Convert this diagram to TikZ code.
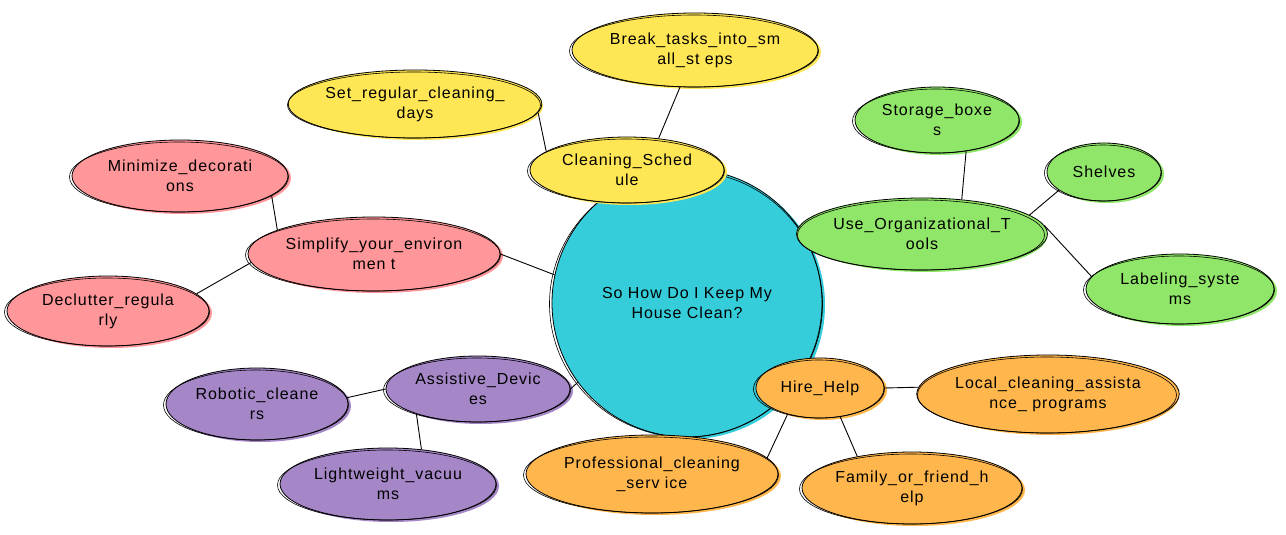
\documentclass[tikz,border=0pt]{standalone}
\usepackage{fontspec}
\setmainfont{Liberation Sans}[LetterSpace=6]
\usetikzlibrary{shapes.geometric}
\definecolor{ccyan}{RGB}{54,205,219}
\definecolor{cyel}{RGB}{255,230,84}
\definecolor{cpink}{RGB}{255,150,153}
\definecolor{cgreen}{RGB}{143,230,104}
\definecolor{cpurple}{RGB}{165,135,200}
\definecolor{corange}{RGB}{255,183,77}
\tikzset{
  mnode/.style={ellipse, draw=black, line width=0.8pt, inner sep=0pt, align=center,
    font=\fontsize{16}{20}\selectfont, text=black},
  sketch/.style={draw=black, line width=0.6pt},
  edge/.style={draw=black, line width=0.9pt},
}
% name, x, y, rx, ry, colour, text
\newcommand{\mm}[7]{%
  \fill[#6] (#2+3,#3+2) ellipse [x radius=#4, y radius=#5];
  \node[mnode, fill=#6, minimum width={2*#4pt}, minimum height={2*#5pt}] (#1) at (#2,#3) {#7};
  \draw[sketch] (#2-1,#3+1) ellipse [x radius=#4+1.5, y radius=#5-1];
}
\begin{document}
\begin{tikzpicture}[x=1pt,y=-1pt]
\useasboundingbox (0,0) rectangle (1286,535);
\fill[white] (0,0) rectangle (1286,535);

\mm{c}{687}{303}{135}{134}{ccyan}{So How Do I Keep My\\House Clean?}
\mm{cs}{627}{170}{97}{33}{cyel}{Cleaning\_Sched\\ule}
\mm{bt}{695}{50}{123}{37}{cyel}{Break\_tasks\_into\_sm\\all\_st eps}
\mm{sr}{415}{104}{125}{34}{cyel}{Set\_regular\_cleaning\_\\days}
\mm{se}{374}{254}{126}{37}{cpink}{Simplify\_your\_environ\\men t}
\mm{md}{180}{176}{108}{36}{cpink}{Minimize\_decorati\\ons}
\mm{dr}{108}{311}{101}{35}{cpink}{Declutter\_regula\\rly}
\mm{uo}{922}{234}{122}{36}{cgreen}{Use\_Organizational\_T\\ools}
\mm{sb}{937}{120}{82}{33}{cgreen}{Storage\_boxe\\s}
\mm{sh}{1104}{172}{57}{29}{cgreen}{Shelves}
\mm{ls}{1180}{289}{94}{35}{cgreen}{Labeling\_syste\\ms}
\mm{ad}{478}{389}{92}{33}{cpurple}{Assistive\_Devic\\es}
\mm{rc}{257}{404}{91}{36}{cpurple}{Robotic\_cleane\\rs}
\mm{lv}{388}{484}{108}{36}{cpurple}{Lightweight\_vacuu\\ms}
\mm{hh}{820}{388}{64}{30}{corange}{Hire\_Help}
\mm{lc}{1048}{394}{128}{39}{corange}{Local\_cleaning\_assista\\nce\_ programs}
\mm{pc}{652}{474}{126}{39}{corange}{Professional\_cleaning\\\_serv ice}
\mm{ff}{912}{488}{110}{36}{corange}{Family\_or\_friend\_h\\elp}

\draw[edge] (cs.45) -- (bt.248);
\draw[edge] (sr.356) -- (cs.167);
\draw[edge] (se.east) -- (c.168);
\draw[edge] (se.166) -- (md.348);
\draw[edge] (se.184) -- (dr.11);
\draw[edge] (uo.41) -- (sb.313);
\draw[edge] (uo.10) -- (sh.202);
\draw[edge] (uo.4) -- (ls.172);
\draw[edge] (ad.east) -- (c.216);
\draw[edge] (ad.180) -- (rc.4);
\draw[edge] (ad.202) -- (lv.46);
\draw[edge] (hh.east) -- (lc.177);
\draw[edge] (hh.305) -- (ff.150);
\draw[edge] (hh.219) -- (pc.8);
\end{tikzpicture}
\end{document}
